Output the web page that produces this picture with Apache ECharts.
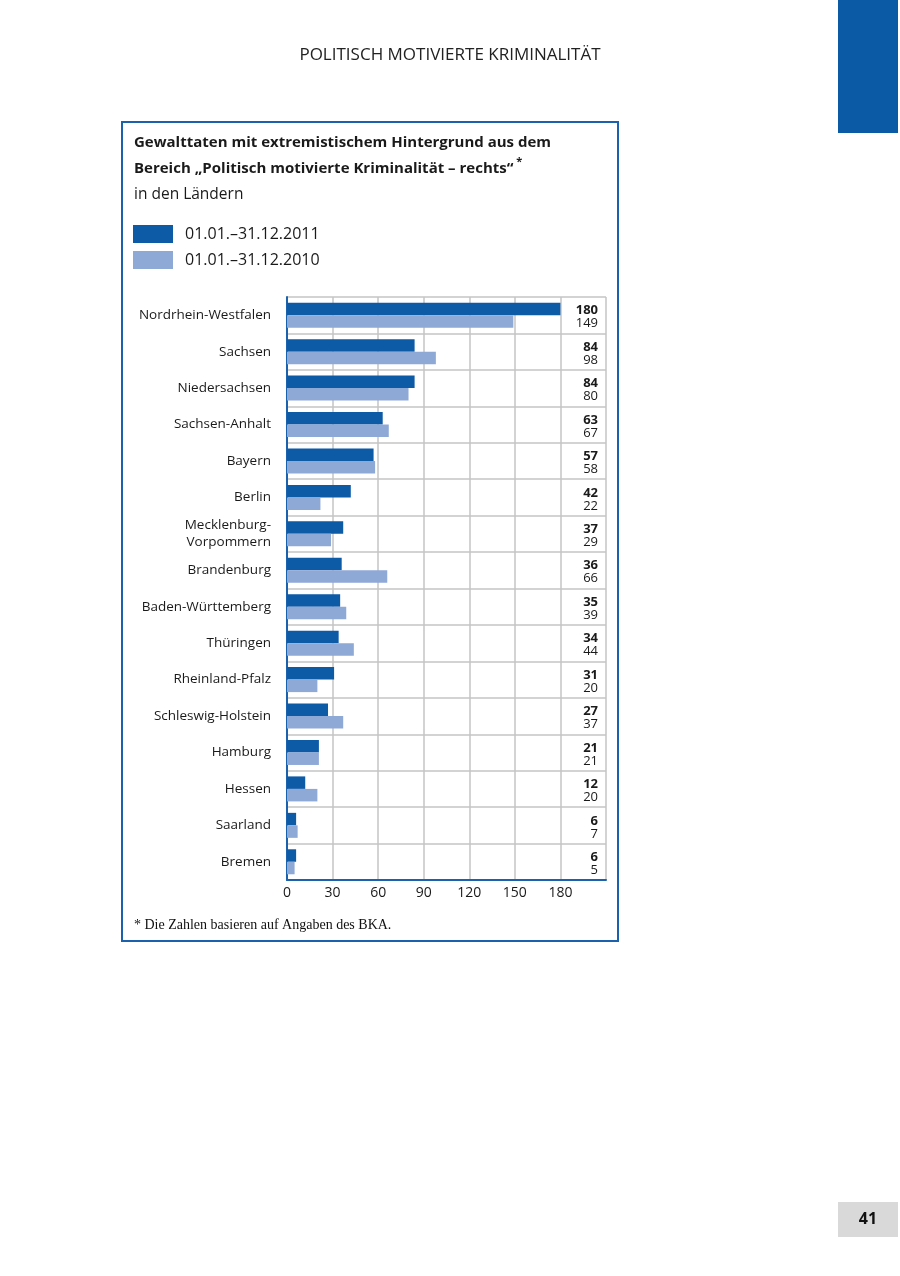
<!DOCTYPE html>
<html><head><meta charset="utf-8">
<script src="https://cdn.jsdelivr.net/npm/echarts@6/dist/echarts.min.js"></script>
<style>html,body{margin:0;padding:0;background:#fff}#c{width:900px;height:1276px}</style>
</head><body><div id="c"></div>
<script>
const categories = ['Nordrhein-Westfalen','Sachsen','Niedersachsen','Sachsen-Anhalt','Bayern','Berlin','Mecklenburg-\nVorpommern','Brandenburg','Baden-Württemberg','Thüringen','Rheinland-Pfalz','Schleswig-Holstein','Hamburg','Hessen','Saarland','Bremen'];
const values2011 = [180,84,84,63,57,42,37,36,35,34,31,27,21,12,6,6];
const values2010 = [149,98,80,67,58,22,29,66,39,44,20,37,21,20,7,5];
const seriesNames = ['01.01.–31.12.2011','01.01.–31.12.2010'];
const xTicks = [0,30,60,90,120,150,180];

const DARK = '#0d5aa7', LIGHT = '#8fa9d7', FRAME = '#1b62ad', GRID = '#c4c4c4';
const FONT = "'Open Sans', 'Noto Sans', sans-serif";

const chart = echarts.init(document.getElementById('c'), null, {renderer:'canvas'});
chart.setOption({
  animation:false,
  backgroundColor:'#fff',
  textStyle:{fontFamily:FONT},
  title:{
    left:134, top:130, padding:0,
    text:'{b|Gewalttaten mit extremistischem Hintergrund aus dem}\n{b|Bereich „Politisch motivierte Kriminalität – rechts“}{s| *}\n{n|in den Ländern}',
    textStyle:{
      fontWeight:'normal',
      rich:{
        b:{fontFamily:FONT,fontSize:15,fontWeight:'bold',color:'#1a1a1a',lineHeight:26},
        s:{fontFamily:FONT,fontSize:11,fontWeight:'bold',color:'#1a1a1a',lineHeight:26,verticalAlign:'top',padding:[0,0,8,0]},
        n:{fontFamily:FONT,fontSize:15.5,fontWeight:'normal',color:'#1a1a1a',lineHeight:26}
      }
    }
  },
  legend:{
    left:133, top:225, padding:0, orient:'vertical', itemWidth:40, itemHeight:18, itemGap:8,
    icon:'rect',
    textStyle:{fontFamily:FONT,fontSize:16,color:'#1a1a1a',padding:[0,0,0,7]},
    data:seriesNames
  },
  graphic:[
    {type:'rect',shape:{x:838,y:0,width:60,height:133},style:{fill:'#0b5aa6'}},
    {type:'rect',shape:{x:838,y:1202,width:60,height:35},style:{fill:'#d9d9d9'}},
    {type:'text',x:868,y:1219,style:{text:'41',font:"bold 16px "+FONT,fill:'#111',textAlign:'center',textVerticalAlign:'middle'}},
    {type:'text',x:450,y:55,style:{text:'POLITISCH MOTIVIERTE KRIMINALITÄT',font:"17px "+FONT,fill:'#222',textAlign:'center',textVerticalAlign:'middle'}},
    {type:'rect',z:-1,shape:{x:122,y:122,width:496,height:819},style:{fill:'none',stroke:FRAME,lineWidth:2}},
    {type:'text',x:134,y:925,style:{text:'* Die Zahlen basieren auf Angaben des BKA.',font:"14px 'Liberation Serif', 'DejaVu Serif', serif",fill:'#111',textVerticalAlign:'middle'}}
  ],
  grid:{left:287,right:294,top:297,bottom:396,containLabel:false},
  xAxis:{
    type:'value',min:0,max:210,interval:30,
    axisLine:{show:true,onZero:false,lineStyle:{color:FRAME,width:2}},
    axisTick:{show:false},
    axisLabel:{fontFamily:FONT,fontSize:14,color:'#1a1a1a',margin:6,
      formatter:v=>xTicks.indexOf(v)>=0?String(v):''},
    splitLine:{show:true,lineStyle:{color:GRID,width:1.5}}
  },
  yAxis:[{
    type:'category',data:categories,inverse:true,
    axisLine:{show:true,lineStyle:{color:FRAME,width:2}},
    axisTick:{show:false},
    axisLabel:{fontFamily:FONT,fontSize:13.5,color:'#1a1a1a',margin:16,lineHeight:17,padding:[8,0,0,0]},
    splitLine:{show:true,lineStyle:{color:GRID,width:1.5}}
  },{
    type:'category',data:categories,inverse:true,position:'right',
    axisLine:{show:false},axisTick:{show:false},splitLine:{show:false},
    axisLabel:{inside:true,margin:8,padding:[4,0,0,0],
      formatter:(v,i)=>'{b|'+values2011[i]+'}\n{n|'+values2010[i]+'}',
      rich:{
        b:{fontFamily:FONT,fontSize:13,fontWeight:'bold',color:'#1a1a1a',lineHeight:13,align:'right'},
        n:{fontFamily:FONT,fontSize:13,color:'#1a1a1a',lineHeight:13,align:'right'}
      }}
  }],
  series:[
    {name:seriesNames[0],type:'bar',data:values2011,barWidth:12.5,barGap:'0%',itemStyle:{color:DARK}},
    {name:seriesNames[1],type:'bar',data:values2010,barWidth:12.5,barGap:'0%',itemStyle:{color:LIGHT}}
  ]
});
</script></body></html>
